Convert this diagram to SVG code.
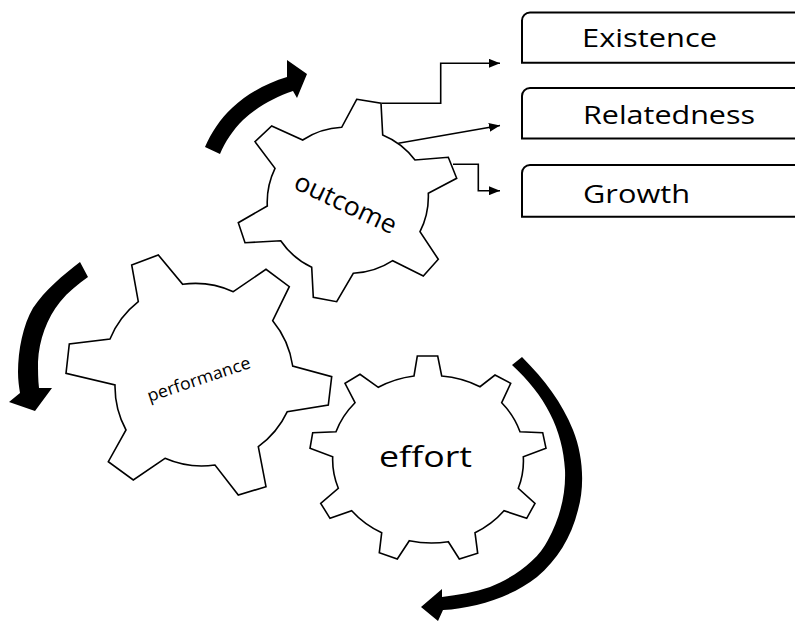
<svg xmlns="http://www.w3.org/2000/svg" width="795" height="621" viewBox="0 0 795 621">
  <defs>
    <style>
      .gear { fill: #ffffff; stroke: #000000; stroke-width: 1.6; stroke-linejoin: miter; }
      .rot { fill: #000000; stroke: none; }
      .box { fill: #ffffff; stroke: #000000; stroke-width: 2; }
      .conn { fill: none; stroke: #000000; stroke-width: 1.6; }
      .t { font-family: "Open Sans", "Liberation Sans", sans-serif; fill: #000000; }
    </style>
    <marker id="ah" markerUnits="userSpaceOnUse" markerWidth="11" markerHeight="9" refX="11" refY="4.5" orient="auto">
      <path d="M0,0 L11,4.5 L0,9 Z" fill="#000000"/>
    </marker>
  </defs>
  <rect width="795" height="621" fill="#ffffff"/>

  <g id="gear-outcome">
    <path class="gear" d="M356.7,99.3 L381,103.3 L382.7,135 A78,78 0 0,1 415,160 L448.3,157.3 L456.7,178.3 L428.3,193.3 A78,78 0 0,1 420,231.7 L438.3,259.3 L423.3,276 L392.7,260.7 A78,78 0 0,1 353.3,273.3 L336.7,301.7 L313.3,297.3 L311.7,267.3 A78,78 0 0,1 280.7,240.7 L245,242.7 L238.3,222.7 L267.3,206 A78,78 0 0,1 275,168.3 L255,141.7 L271.7,126 L302.7,140 A78,78 0 0,1 341.7,127.3 Z"/>
    <text class="t" x="345" y="212" font-size="26" text-anchor="middle" textLength="110" lengthAdjust="spacingAndGlyphs" transform="rotate(25 345 205)">outcome</text>
  </g>

  <g id="gear-performance">
    <path class="gear" d="M131.7,265 L158.3,255 L182.7,284.3 A92,92 0 0,1 233.3,291.7 L266,269.3 L289.3,286.7 L272.7,320.7 A92,92 0 0,1 292.7,366 L331.7,376.7 L328.3,405 L287.3,411.7 A92,92 0 0,1 258.3,446.7 L266,486.7 L238.3,495 L215,465 A92,92 0 0,1 165,458.3 L133.3,480 L108.3,461.7 L126,430 A92,92 0 0,1 115,385 L66,373.3 L69.3,344 L110,339 A92,92 0 0,1 138.3,301.7 Z"/>
    <text class="t" x="199" y="385" font-size="17" text-anchor="middle" textLength="108" lengthAdjust="spacingAndGlyphs" transform="rotate(-18.5 199 380)">performance</text>
  </g>

  <g id="gear-effort">
    <path class="gear" d="M417.3,356 L437.7,356 L441.7,376 A95,84 0 0,1 480,386.7 L495,375 L510.7,383.3 L501.7,402.7 A95,84 0 0,1 520,431.7 L542.7,432.7 L546,448.3 L523.3,456.7 A95,84 0 0,1 518.3,488.3 L535,503.3 L526.7,518.3 L504,510.7 A95,84 0 0,1 475,532.7 L477.7,553.3 L459.3,559 L448.3,541.7 A95,84 0 0,1 409.3,540.7 L397.3,559 L379.3,552.7 L381.7,532.7 A95,84 0 0,1 351.7,510.7 L330,518.3 L320.7,503.3 L338.3,488.3 A95,84 0 0,1 332.7,456.7 L310,448.3 L312.7,432.7 L336,431.7 A95,84 0 0,1 355,402.7 L345,383.3 L360,374.3 L378.3,387.3 A95,84 0 0,1 414,376 Z"/>
    <text class="t" x="379" y="467" font-size="30" textLength="93" lengthAdjust="spacingAndGlyphs">effort</text>
  </g>

  <g id="rotation-arrows">
    <path class="rot" d="M205,147 C211,133 220,119 232,108 C248,93 267,83 287,77 L287,60 L307,74 L297,98 L293,91 C275,97 257,107 243,120 C233,130 225,142 220,154 Z"/>
    <path class="rot" d="M80,262 C63,275 45,290 33,308 C23,325 18,350 18,372 C18,380 19,387 20,393 L9,402 L35,411 L52,388 L39,388 C38,380 38,370 38,362 C39,340 47,318 60,302 C68,292 78,284 88,277 Z"/>
    <path class="rot" d="M522,357 C545,380 562,403 573,430 C583,455 585,485 578,510 C571,538 557,560 537,577 C510,598 475,608 443,610 L438,621 L421,607 L442,589 L442,597 C458,595 475,592 490,587 C515,577 538,560 548,540 C560,518 566,494 565,470 C563,430 545,395 512,365 Z"/>
  </g>

  <g id="box-existence">
    <path class="box" d="M812,12.5 L530,12.5 A8,8 0 0,0 522,20.5 L522,62.7 L812,62.7"/>
    <text class="t" x="582" y="47" font-size="25" textLength="135" lengthAdjust="spacingAndGlyphs">Existence</text>
  </g>
  <g id="box-relatedness">
    <path class="box" d="M812,88 L530,88 A8,8 0 0,0 522,96 L522,138.5 L812,138.5"/>
    <text class="t" x="583" y="124" font-size="25" textLength="172" lengthAdjust="spacingAndGlyphs">Relatedness</text>
  </g>
  <g id="box-growth">
    <path class="box" d="M812,165 L530,165 A8,8 0 0,0 522,173 L522,216.7 L812,216.7"/>
    <text class="t" x="583" y="203" font-size="25" textLength="107" lengthAdjust="spacingAndGlyphs">Growth</text>
  </g>

  <g id="connectors">
    <polyline class="conn" points="381.7,103.3 440.7,103.3 440.7,63.3 500,63.3" marker-end="url(#ah)"/>
    <line class="conn" x1="398.3" y1="143.3" x2="500" y2="125.5" marker-end="url(#ah)"/>
    <polyline class="conn" points="453,164.3 478.3,164.3 478.3,190.7 500,190.7" marker-end="url(#ah)"/>
  </g>
</svg>
